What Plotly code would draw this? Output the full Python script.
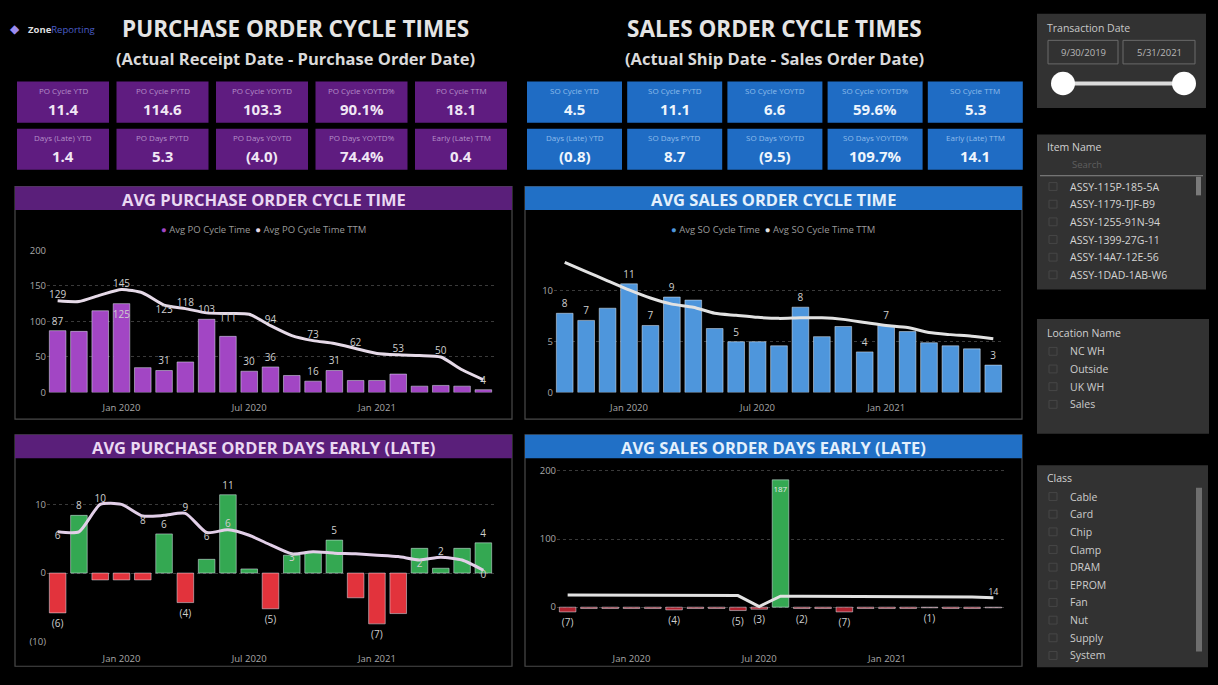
import plotly.graph_objects as go

W, H = 1218, 685

# ---------------- DATA ----------------
months = ["2019-10", "2019-11", "2019-12", "2020-01", "2020-02", "2020-03", "2020-04",
          "2020-05", "2020-06", "2020-07", "2020-08", "2020-09", "2020-10", "2020-11",
          "2020-12", "2021-01", "2021-02", "2021-03", "2021-04", "2021-05", "2021-06"]
tick_months = ["2020-01", "2020-07", "2021-01"]
tick_labels = ["Jan 2020", "Jul 2020", "Jan 2021"]

po_cycle = [87, 86, 115, 125, 35, 31, 43, 103, 79, 30, 36, 24, 16, 31, 17, 17, 26, 9, 10, 9, 4]
po_cycle_ttm = [129, 128, 137, 145, 140, 123, 118, 112, 111, 110, 94, 80, 73, 69, 62, 55, 53, 52, 50, 32, 18]
po_cycle_bar_lbl = [0, 3, 5, 7, 9, 10, 12, 13, 20]
po_cycle_line_lbl = {0: "top", 3: "top", 5: "bottom", 6: "top", 8: "bottom", 10: "top",
                     12: "top", 14: "top", 16: "top", 18: "top"}

so_cycle = [7.8, 7.1, 8.3, 10.7, 6.6, 9.4, 9.1, 6.3, 5.0, 5.0, 4.6, 8.4, 5.5, 6.5, 4.0, 6.6, 6.0, 4.9, 4.6, 4.3, 2.7]
so_cycle_ttm = [12.8, 11.9, 11.0, 10.1, 9.3, 8.7, 8.4, 7.8, 7.6, 7.4, 7.3, 7.35, 7.35, 7.2, 6.9, 6.6, 6.4, 5.9, 5.7, 5.55, 5.3]
so_cycle_bar_lbl = [0, 1, 3, 4, 5, 8, 11, 14, 15, 20]

po_days = [-5.8, 8.4, -1, -1, -1, 5.7, -4.3, 2.0, 11.4, 0.6, -5.2, 2.6, 3.1, 4.8, -3.6, -7.4, -5.9, 3.6, 0.7, 3.6, 4.4]
po_days_ttm = [6.0, 6.0, 10.0, 10.0, 8.3, 8.4, 8.7, 5.9, 6.3, 5.5, 4.1, 2.8, 3.1, 2.9, 2.8, 2.6, 2.4, 1.9, 2.3, 1.9, 0.4]
po_days_bar_lbl = [0, 1, 5, 6, 8, 10, 13, 15, 20]
po_days_line_lbl = {0: "bottom", 2: "top", 4: "bottom", 6: "top", 7: "bottom", 8: "top",
                    11: "bottom", 17: "bottom", 18: "top", 20: "bottom"}

so_days = [-7, -2, -2, -2, -2, -4, -2, -2, -5, -3, 187, -2, -2, -7, -2, -2, -2, -1, -2, -2, -1]
so_days_ttm = [18, 18, 18, 18, 18, 18, 18, 18, 17, 1, 16, 16, 16, 16, 16, 15, 15, 15, 15, 15, 14]
so_days_bar_lbl = [0, 5, 8, 9, 10, 11, 13, 17]
so_days_line_lbl = {20: "top"}

po_kpi_titles = [["PO Cycle YTD", "PO Cycle PYTD", "PO Cycle YOYTD", "PO Cycle YOYTD%", "PO Cycle TTM"],
                 ["Days (Late) YTD", "PO Days PYTD", "PO Days YOYTD", "PO Days YOYTD%", "Early (Late) TTM"]]
po_kpi_values = [["11.4", "114.6", "103.3", "90.1%", "18.1"],
                 ["1.4", "5.3", "(4.0)", "74.4%", "0.4"]]
so_kpi_titles = [["SO Cycle YTD", "SO Cycle PYTD", "SO Cycle YOYTD", "SO Cycle YOYTD%", "SO Cycle TTM"],
                 ["Days (Late) YTD", "SO Days PYTD", "SO Days YOYTD", "SO Days YOYTD%", "Early (Late) TTM"]]
so_kpi_values = [["4.5", "11.1", "6.6", "59.6%", "5.3"],
                 ["(0.8)", "8.7", "(9.5)", "109.7%", "14.1"]]

item_names = ["ASSY-115P-185-5A", "ASSY-1179-TJF-B9", "ASSY-1255-91N-94",
              "ASSY-1399-27G-11", "ASSY-14A7-12E-56", "ASSY-1DAD-1AB-W6"]
location_names = ["NC WH", "Outside", "UK WH", "Sales"]
class_names = ["Cable", "Card", "Chip", "Clamp", "DRAM", "EPROM", "Fan", "Nut", "Supply", "System"]
date_from, date_to = "9/30/2019", "5/31/2021"

# ---------------- STYLE ----------------
FONT = "Open Sans"
PURPLE_CARD = "#5F1C80"
PURPLE_HDR = "#5A1F7A"
PURPLE_BAR = "#A246C4"
BLUE_CARD = "#1F6CC4"
BLUE_HDR = "#2170C6"
BLUE_BAR = "#4E96DC"
GREEN = "#34A852"
RED = "#E2333C"
SLICER_BG = "#323232"


def px(x):
    return x / W


def py(y):
    return 1 - y / H


def fmt(v):
    return f"({abs(v):.0f})" if v < 0 else f"{v:.0f}"


def bar_text(vals, idx):
    return [fmt(v) if i in idx else "" for i, v in enumerate(vals)]


def line_text(vals, lbl):
    return [fmt(v) if i in lbl else "" for i, v in enumerate(vals)]


def line_pos(vals, lbl):
    return [(lbl.get(i, "top") + " center") for i in range(len(vals))]


fig = go.Figure()
tf = dict(family=FONT, size=10, color="#cfcfcf")

# PO cycle
fig.add_trace(go.Bar(x=months, y=po_cycle, marker_color=PURPLE_BAR, text=bar_text(po_cycle, po_cycle_bar_lbl),
                     textposition=["inside" if i == 3 else "outside" for i in range(len(po_cycle))],
                     insidetextanchor="end", textangle=0, constraintext="none",
                     textfont=tf, insidetextfont=tf, outsidetextfont=tf, cliponaxis=False, xaxis="x", yaxis="y"))
fig.add_trace(go.Scatter(x=months, y=po_cycle_ttm, mode="lines+text", line=dict(color="#E6DAE8", width=3, shape="spline", smoothing=0.6),
                         text=line_text(po_cycle_ttm, po_cycle_line_lbl), textposition=line_pos(po_cycle_ttm, po_cycle_line_lbl),
                         textfont=tf, cliponaxis=False, xaxis="x", yaxis="y"))
# SO cycle
fig.add_trace(go.Bar(x=months, y=so_cycle, marker_color=BLUE_BAR, text=bar_text(so_cycle, so_cycle_bar_lbl),
                     textposition="outside", textangle=0, textfont=tf, cliponaxis=False, xaxis="x2", yaxis="y2"))
fig.add_trace(go.Scatter(x=months, y=so_cycle_ttm, mode="lines", line=dict(color="#E2E2E2", width=3, shape="spline", smoothing=0.6),
                         xaxis="x2", yaxis="y2"))
# PO days
fig.add_trace(go.Bar(x=months, y=po_days, marker_color=[GREEN if v >= 0 else RED for v in po_days],
                     text=bar_text(po_days, po_days_bar_lbl), textposition="outside", textangle=0, textfont=tf,
                     cliponaxis=False, xaxis="x3", yaxis="y3"))
fig.add_trace(go.Scatter(x=months, y=po_days_ttm, mode="lines+text", line=dict(color="#E2CFE8", width=3, shape="spline", smoothing=0.6),
                         text=line_text(po_days_ttm, po_days_line_lbl), textposition=line_pos(po_days_ttm, po_days_line_lbl),
                         textfont=tf, cliponaxis=False, xaxis="x3", yaxis="y3"))
# SO days
fig.add_trace(go.Bar(x=months, y=so_days, marker_color=[GREEN if v >= 0 else "#B02430" for v in so_days],
                     text=bar_text(so_days, so_days_bar_lbl),
                     textposition=["inside" if v > 50 else "outside" for v in so_days],
                     insidetextanchor="end", constraintext="none", textangle=0,
                     textfont=tf, insidetextfont=dict(family=FONT, size=8, color="#e8e8e8"), outsidetextfont=tf,
                     cliponaxis=False, xaxis="x4", yaxis="y4"))
fig.add_trace(go.Scatter(x=months, y=so_days_ttm, mode="lines+text", line=dict(color="#E2E2E2", width=3),
                         text=line_text(so_days_ttm, so_days_line_lbl), textposition=line_pos(so_days_ttm, so_days_line_lbl),
                         textfont=dict(family=FONT, size=9, color="#cfcfcf"), cliponaxis=False, xaxis="x4", yaxis="y4"))


def xax(x0, x1, anchor, standoff):
    return dict(domain=[px(x0), px(x1)], type="category", categoryorder="array", categoryarray=months,
                range=[-0.5, 20.5], tickvals=tick_months, ticktext=tick_labels, showgrid=False,
                zeroline=False, showline=False, ticks="", tickfont=dict(family=FONT, size=9.5, color="#a8a8a8"),
                ticklabelstandoff=standoff, anchor=anchor, fixedrange=True)


def yax(y_top, y_bot, rng, tv, tt, anchor):
    return dict(domain=[py(y_bot), py(y_top)], range=rng, tickvals=tv, ticktext=tt, showgrid=True,
                gridcolor="#3a3a3a", griddash="dot", gridwidth=1, zeroline=False, showline=False, ticks="",
                tickfont=dict(family=FONT, size=9.5, color="#a8a8a8"), anchor=anchor, fixedrange=True)


layout = dict(
    width=W, height=H, margin=dict(l=0, r=0, t=0, b=0),
    paper_bgcolor="#000000", plot_bgcolor="rgba(0,0,0,0)", showlegend=False,
    bargap=0.22, font=dict(family=FONT, color="#cccccc"),
    xaxis=xax(47, 494, "y", 8),
    yaxis=yax(248, 393, [0, 200], [0, 50, 100, 150, 200], ["0", "50", "100", "150", "200"], "x"),
    xaxis2=xax(554, 1004, "y2", 8),
    yaxis2=yax(248, 393, [0, 14], [0, 5, 10], ["0", "5", "10"], "x2"),
    xaxis3=xax(47, 494, "y3", 10),
    yaxis3=yax(489.5, 647, [-10, 12.5], [-10, 0, 10], ["(10)", "0", "10"], "x3"),
    xaxis4=xax(557, 1004, "y4", 14),
    yaxis4=yax(469.5, 643, [-45, 205], [0, 100, 200], ["0", "100", "200"], "x4"),
)
fig.update_layout(**layout)

shapes = []
ann = []


def rect(x0, y0, x1, y1, fill=None, line=None, lw=1, layer="below"):
    shapes.append(dict(type="rect", xref="paper", yref="paper", x0=px(x0), x1=px(x1), y0=py(y1), y1=py(y0),
                       fillcolor=fill if fill else "rgba(0,0,0,0)",
                       line=dict(color=line if line else "rgba(0,0,0,0)", width=lw if line else 0), layer=layer))


def text(x, y, s, size=9, color="#cccccc", xanchor="center", bold=False, family=FONT):
    ann.append(dict(x=px(x), y=py(y), xref="paper", yref="paper", text=("<b>%s</b>" % s) if bold else s,
                    showarrow=False, xanchor=xanchor, yanchor="middle",
                    font=dict(family=family, size=size, color=color)))


# Titles
text(295, 22, "PURCHASE ORDER CYCLE TIMES", 22.5, "#E4E4E4", bold=True)
text(295, 52, "(Actual Receipt Date - Purchase Order Date)", 16.5, "#DADADA", bold=True)
text(775, 22, "SALES ORDER CYCLE TIMES", 22.5, "#E4E4E4", bold=True)
text(775, 52, "(Actual Ship Date - Sales Order Date)", 16.5, "#DADADA", bold=True)

# Logo
text(15, 22, "◆", 12, "#9C8CF0")
text(26, 23, "<b>Zone</b><span style='color:#4a5ec8'>Reporting</span>", 9.5, "#dddddd", xanchor="left")

# KPI cards
for r in range(2):
    y0 = 76 if r == 0 else 124
    for c in range(5):
        x0 = 17 + c * 99.5
        rect(x0, y0, x0 + 92, y0 + 42, fill=PURPLE_CARD)
        text(x0 + 46, y0 + 9, po_kpi_titles[r][c], 8, "#B58FC8")
        text(x0 + 46, y0 + 28, po_kpi_values[r][c], 15, "#F0E6F4", bold=True)
        x0s = 527 + c * 100.2
        rect(x0s, y0, x0s + 95, y0 + 42, fill=BLUE_CARD)
        text(x0s + 47.5, y0 + 9, so_kpi_titles[r][c], 8, "#8FBCEB")
        text(x0s + 47.5, y0 + 28, so_kpi_values[r][c], 15, "#EEF5FC", bold=True)

# Chart panels
panels = [
    (15, 183, 512, 420, PURPLE_HDR, "AVG PURCHASE ORDER CYCLE TIME", "#EAD8F2"),
    (525, 183, 1022, 420, BLUE_HDR, "AVG SALES ORDER CYCLE TIME", "#E4F0FC"),
    (15, 436, 512, 672, PURPLE_HDR, "AVG PURCHASE ORDER DAYS EARLY (LATE)", "#EAD8F2"),
    (525, 436, 1022, 672, BLUE_HDR, "AVG SALES ORDER DAYS EARLY (LATE)", "#E4F0FC"),
]
for x0, y0, x1, y1, col, title, tcol in panels:
    rect(x0, y0, x1, y1, line="#4a4a4a", lw=1.2)
    rect(x0, y0, x1, y0 + 24, fill=col)
    text((x0 + x1) / 2, y0 + 13, title, 16.5, tcol, bold=True)

# Legends
text(263, 227, "<span style='color:%s'>●</span> Avg PO Cycle Time  <span style='color:#E6DAE8'>●</span> Avg PO Cycle Time TTM" % PURPLE_BAR,
     9.5, "#9a9a9a")
text(773, 227, "<span style='color:%s'>●</span> Avg SO Cycle Time  <span style='color:#E2E2E2'>●</span> Avg SO Cycle Time TTM" % BLUE_BAR,
     9.5, "#9a9a9a")

# Slicers
SL = 10.5
# Transaction date
rect(1037, 7, 1206, 103, fill=SLICER_BG)
text(1045, 21, "Transaction Date", SL, "#c8c8c8", xanchor="left")
rect(1048, 34, 1118, 58, line="#6a6a6a")
rect(1123, 34, 1195, 58, line="#6a6a6a")
text(1083, 46, date_from, 9.5, "#b8b8b8")
text(1159, 46, date_to, 9.5, "#b8b8b8")
shapes.append(dict(type="line", xref="paper", yref="paper", x0=px(1063), x1=px(1184), y0=py(78), y1=py(78),
                   line=dict(color="#dcdcdc", width=4), layer="above"))
for cx in (1063, 1184):
    shapes.append(dict(type="circle", xref="paper", yref="paper", x0=px(cx - 12), x1=px(cx + 12),
                       y0=py(90), y1=py(66), fillcolor="#ffffff", line=dict(color="#ffffff", width=0), layer="above"))

# Item name
rect(1037, 130, 1206, 288, fill=SLICER_BG)
text(1045, 143, "Item Name", SL, "#d0d0d0", xanchor="left")
text(1070, 161, "Search", 9.5, "#5f5f5f", xanchor="left")
shapes.append(dict(type="line", xref="paper", yref="paper", x0=px(1040), x1=px(1203), y0=py(172), y1=py(172),
                   line=dict(color="#8a8a8a", width=1), layer="above"))
rect(1196, 173, 1201, 192, fill="#7a7a7a", layer="above")
for i, name in enumerate(item_names):
    yy = 183 + i * 18
    rect(1049, yy - 4, 1057, yy + 4, line="#464646")
    text(1068, yy, name, SL, "#d4d4d4", xanchor="left")

# Location
rect(1037, 318, 1209, 435, fill=SLICER_BG)
text(1045, 332, "Location Name", SL, "#d0d0d0", xanchor="left")
for i, name in enumerate(location_names):
    yy = 351 + i * 18
    rect(1049, yy - 4, 1057, yy + 4, line="#464646")
    text(1068, yy, name, SL, "#cccccc", xanchor="left")

# Class
rect(1037, 467, 1208, 673, fill=SLICER_BG)
text(1045, 480, "Class", SL, "#d0d0d0", xanchor="left")
rect(1196, 490, 1202, 657, fill="#6e6e6e", layer="above")
for i, name in enumerate(class_names):
    yy = 499 + i * 18
    rect(1049, yy - 4, 1057, yy + 4, line="#464646")
    text(1068, yy, name, SL, "#cccccc", xanchor="left")

fig.update_layout(shapes=shapes, annotations=ann)
fig.write_html("out.html", config={"displayModeBar": False},
               post_script="document.body.style.margin='0';document.body.style.overflow='hidden';")
